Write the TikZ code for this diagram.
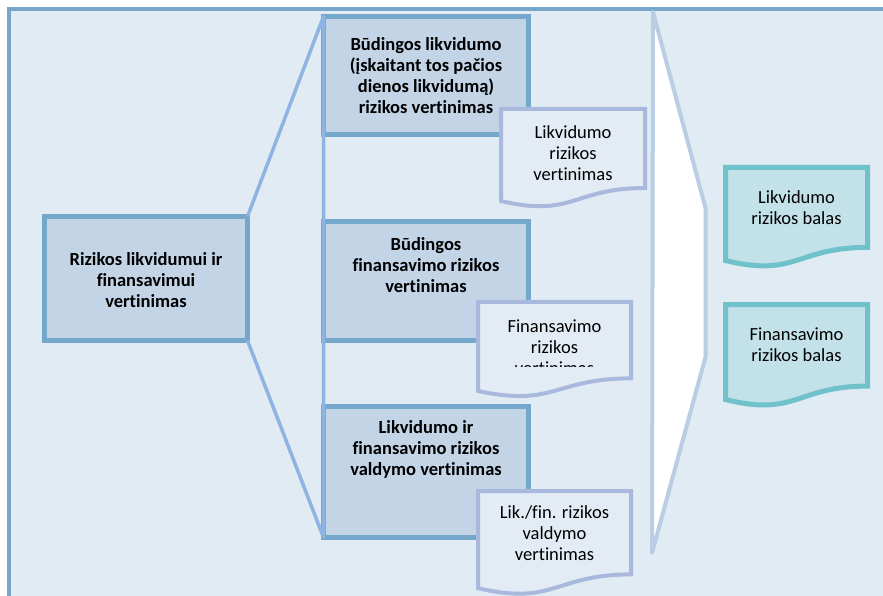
\documentclass[tikz,border=0pt]{standalone}
\usepackage{fontspec}
\setmainfont{Carlito}[Ligatures={NoCommon}]
\usepackage{tikz}
\usetikzlibrary{positioning}
\usetikzlibrary{calc}
\definecolor{paneback}{HTML}{E1EBF3}
\definecolor{paneline}{HTML}{76A7CA}
\definecolor{boxfill}{HTML}{C4D4E7}
\definecolor{boxline}{HTML}{74A7CA}
\definecolor{bracketline}{HTML}{8DB4E2}
\definecolor{funnelline}{HTML}{B9CDE5}
\definecolor{docline}{HTML}{A9B9DE}
\definecolor{docfill}{HTML}{E3ECF4}
\definecolor{scoreline}{HTML}{6FC1CA}
\definecolor{scorefill}{HTML}{C3E1E8}
\tikzset{basic box/.style={rectangle,outer sep=0pt,inner sep=0pt}}
\tikzset{risk box/.style={basic box,draw=boxline,fill=boxfill,
                          line width=5pt,minimum width=205pt}}
\tikzset{doc frame/.style={basic box,minimum width=153pt}}
\tikzset{body text/.style={align=center,inner sep=0pt,
                           font=\fontsize{18.5}{21}\selectfont}}
\tikzset{box text/.style={body text,font=\fontsize{18.5}{21}\selectfont\bfseries}}
\newcommand{\docshape}[2]{%
  \path[#1] (#2.north west) -- (#2.north east)
    -- ($(#2.north east)!.802!(#2.south east)$)
    .. controls ($(#2.north)!.802!(#2.south)$) and ($(#2.north)!1.1075!(#2.south)$)
    .. ($(#2.north west)!.934!(#2.south west)$) -- cycle;}

\begin{document}
\begin{tikzpicture}
      [
      x=1pt,y=-1pt,
      panel line/.style={draw=paneline,line width=4pt},
      bracket/.style={draw=bracketline,line width=3.5pt,line join=round},
      funnel/.style={draw=funnelline,fill=white,line width=4pt,line join=round},
      result doc/.style={draw=docline,fill=docfill,line width=4pt},
      score doc/.style={draw=scoreline,fill=scorefill,line width=5pt},
      ]
      \useasboundingbox (0,0) rectangle (883,596);
      \clip (0,0) rectangle (883,596);

      % panel
      \fill [paneback] (9,9) rectangle (900,610);
      \path [panel line] (900,9) -- (9,9) -- (9,610);

      % boxes
      \node [risk box,minimum width=203pt,minimum height=124pt] (riskbox) at (146,278.5) {};
      \node [risk box,minimum height=118pt] (liqbox) at (426,75.5) {};
      \node [risk box,minimum height=119pt] (fundbox) at (426,281) {};
      \node [risk box,minimum height=131pt] (mgmtbox) at (426,472) {};

      \node [box text,below=36pt of riskbox.north] (risktext)
      {Rizikos likvidumui ir\\finansavimui\\vertinimas};
      \node [box text,below=21pt of liqbox.north] (liqtext)
      {Būdingos likvidumo\\(įskaitant tos pačios\\dienos likvidumą)\\rizikos vertinimas};
      \node [box text,below=16pt of fundbox.north] (fundtext)
      {Būdingos\\finansavimo rizikos\\vertinimas};
      \node [box text,below=14pt of mgmtbox.north] (mgmttext)
      {Likvidumo ir\\finansavimo rizikos\\valdymo vertinimas};

      % bracket
      \path [bracket] (riskbox.north east) -- (liqbox.north west)
      -- (mgmtbox.south west) -- (riskbox.south east);

      % result documents
      \node [doc frame,minimum width=144pt,minimum height=98.5pt] (liqdoc) at (573,158.25) {};
      \node [doc frame,minimum height=95.3pt] (funddoc) at (554.5,349.6) {};
      \node [doc frame,minimum height=104pt] (mgmtdoc) at (554.5,543) {};
      \docshape{result doc}{liqdoc}
      \docshape{result doc}{funddoc}
      \docshape{result doc}{mgmtdoc}

      \node [body text,below=16.5pt of liqdoc.north] (liqdoctext)
      {Likvidumo\\rizikos\\vertinimas};
      \begin{scope}
        \clip (funddoc.north west) rectangle ($(funddoc.north east)+(0,65)$);
        \node [body text,below=17.5pt of funddoc.north] (funddoctext)
        {Finansavimo\\rizikos\\vertinimas};
      \end{scope}
      \node [body text,below=14.5pt of mgmtdoc.north] (mgmtdoctext)
      {Lik./fin. rizikos\\valdymo\\vertinimas};

      % funnel
      \path [funnel] (653,12) -- (705.5,208) -- (705.5,357) -- (652,553) -- cycle;

      % scores
      \node [doc frame,minimum width=142pt,minimum height=99.6pt] (liqscore) at (796.5,217.3) {};
      \node [doc frame,minimum width=142pt,minimum height=101.7pt] (fundscore) at (796.5,355.4) {};
      \docshape{score doc}{liqscore}
      \docshape{score doc}{fundscore}

      \node [body text,below=23pt of liqscore.north] (liqscoretext)
      {Likvidumo\\rizikos balas};
      \node [body text,below=23pt of fundscore.north] (fundscoretext)
      {Finansavimo\\rizikos balas};

    \end{tikzpicture}
\end{document}
